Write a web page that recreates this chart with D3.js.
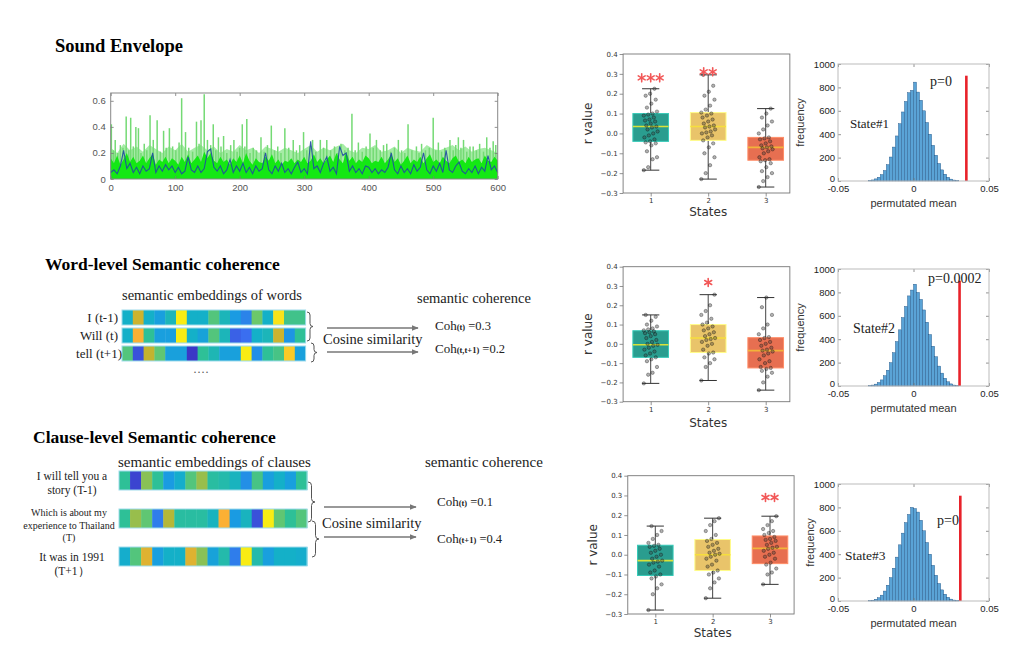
<!DOCTYPE html>
<html>
<head>
<meta charset="utf-8">
<script src="https://cdn.jsdelivr.net/npm/d3@7"></script>
<style>
  body { margin: 0; background: #fff; }
  svg { display: block; }
</style>
</head>
<body>
<svg id="fig" width="1035" height="653"></svg>
<script>
// ---------- data ----------

// sound envelope (x in samples 0..600)
const envXTicks = [0, 100, 200, 300, 400, 500, 600];
const envYTicks = [0, 0.2, 0.4, 0.6];
const envYLabels = ["0", "0.2", "0.4", "0.6"];
const envStep = 5;
const envBase = [
  0.16,0.12,0.18,0.11,0.15,0.2,0.13,0.17,0.12,0.14,0.18,0.12,0.16,0.19,0.11,0.15,0.13,0.17,0.12,0.16,
  0.14,0.11,0.17,0.13,0.19,0.12,0.15,0.18,0.13,0.21,0.16,0.2,0.14,0.12,0.17,0.13,0.15,0.11,0.16,0.13,
  0.18,0.12,0.2,0.14,0.11,0.16,0.13,0.12,0.17,0.14,0.19,0.12,0.15,0.11,0.14,0.13,0.16,0.12,0.15,0.13,
  0.17,0.12,0.14,0.19,0.13,0.16,0.12,0.15,0.18,0.13,0.2,0.15,0.12,0.21,0.14,0.17,0.12,0.15,0.13,0.18,
  0.16,0.12,0.14,0.13,0.17,0.12,0.15,0.19,0.13,0.16,0.11,0.14,0.18,0.12,0.15,0.13,0.17,0.12,0.16,0.19,
  0.13,0.15,0.12,0.17,0.14,0.12,0.16,0.18,0.13,0.15,0.12,0.17,0.13,0.15,0.16,0.12,0.18,0.14,0.13,0.17,0.14
];
const envMidStep = 10;
const envMid = [
  0.24,0.2,0.27,0.22,0.25,0.21,0.26,0.23,0.2,0.25, 0.22,0.27,0.21,0.24,0.26,0.22,0.25,0.2,0.23,0.21,
  0.26,0.22,0.24,0.2,0.25,0.23,0.21,0.24,0.22,0.2, 0.23,0.26,0.21,0.24,0.22,0.25,0.27,0.22,0.2,0.24,
  0.23,0.26,0.21,0.22,0.25,0.2,0.24,0.22,0.21,0.26, 0.23,0.22,0.24,0.26,0.22,0.25,0.21,0.23,0.24,0.22,
  0.2
];
const envSpikeX = [
  1,4,7,11,15,19,24,28,31,35, 39,43,47,52,56,61,66,72,77,82, 86,91,96,101,106,110,116,121,127,133,
  137,140,145,150,155,159,163,167,171,175, 180,186,191,196,200,204,208,211,216,221,
  226,233,238,243,249,254,259,264,270,276, 283,288,293,299,304,309,313,318,325,330,
  335,341,347,352,357,363,368,374,379,384, 390,396,402,407,412,418,423,428,434,440,
  446,451,456,461,467,474,478,482,488,494, 500,504,508,513,518,526,531,535,539,543,
  547,552,557,562,567,572,578,583,588,593, 597
];
const envSpikeVal = [
  0.42,0.22,0.3,0.2,0.26,0.24,0.48,0.22,0.47,0.25, 0.4,0.39,0.2,0.27,0.22,0.49,0.3,0.45,0.21,0.37,
  0.24,0.39,0.25,0.22,0.28,0.62,0.36,0.24,0.21,0.44, 0.27,0.45,0.65,0.3,0.26,0.42,0.22,0.32,0.25,0.33,
  0.2,0.26,0.3,0.21,0.24,0.42,0.25,0.46,0.2,0.24, 0.22,0.32,0.21,0.26,0.41,0.22,0.25,0.2,0.39,0.24,
  0.3,0.22,0.26,0.36,0.22,0.25,0.3,0.21,0.3,0.24, 0.3,0.22,0.25,0.2,0.27,0.22,0.24,0.5,0.22,0.28,
  0.21,0.25,0.35,0.24,0.3,0.22,0.26,0.27,0.21,0.24, 0.3,0.22,0.2,0.42,0.22,0.25,0.2,0.27,0.22,0.24,
  0.47,0.22,0.28,0.21,0.24,0.3,0.22,0.26,0.32,0.24, 0.3,0.21,0.25,0.25,0.22,0.27,0.21,0.32,0.24,0.29,
  0.26
];
const envSmooth = [
  0.05,0.07,0.04,0.1,0.22,0.08,0.12,0.05,0.09,0.04,0.1,0.06,0.08,0.2,0.05,0.1,0.06,0.11,0.07,0.1,
  0.05,0.09,0.04,0.06,0.17,0.07,0.05,0.1,0.05,0.08,0.21,0.23,0.09,0.06,0.1,0.04,0.07,0.15,0.05,0.1,
  0.06,0.12,0.05,0.09,0.04,0.1,0.06,0.08,0.2,0.07,0.04,0.1,0.06,0.12,0.05,0.08,0.04,0.09,0.13,0.05,
  0.08,0.04,0.29,0.08,0.1,0.05,0.12,0.17,0.06,0.09,0.04,0.25,0.18,0.2,0.06,0.1,0.05,0.08,0.04,0.1,
  0.09,0.05,0.08,0.04,0.07,0.05,0.09,0.2,0.07,0.04,0.1,0.05,0.08,0.04,0.11,0.06,0.09,0.2,0.07,0.04,
  0.1,0.06,0.12,0.05,0.22,0.07,0.05,0.1,0.13,0.06,0.04,0.08,0.05,0.1,0.04,0.09,0.06,0.18,0.07,0.1,0.05
];

// embeddings (colormap values 0..1)
const wordLabels = ["I (t-1)", "Will (t)", "tell (t+1)"];
const wordEmbeddings = [
  [0.42,0.76,0.42,0.32,0.45,1.0,0.42,0.42,0.58,0.45,0.3,0.22,0.62,0.42,0.98,0.55,0.55],
  [0.42,0.86,0.52,0.32,0.32,1.0,0.42,0.34,0.58,0.45,0.12,0.15,0.42,0.45,0.76,0.28,0.52],
  [0.58,0.08,0.74,0.6,0.33,0.33,0.02,0.52,0.46,0.33,0.33,1.0,0.26,0.52,0.56,0.92,0.33]
];
const clauseLabels = [
  ["I will tell you a", "story (T-1)"],
  ["Which is about my", "experience to Thailand", "(T)"],
  ["It was in 1991", "(T+1）"]
];
const clauseEmbeddings = [
  [0.52,0.05,0.66,0.52,0.3,0.4,0.58,0.68,0.5,0.48,0.44,0.26,0.56,0.32,0.42,0.32,0.52],
  [0.52,0.68,0.6,0.2,0.72,0.5,0.5,0.5,0.44,0.86,0.3,0.44,0.08,1.0,0.6,0.52,0.58],
  [0.4,0.58,0.8,0.32,0.42,0.42,0.8,0.66,0.34,0.48,0.2,1.0,0.48,0.32,0.42,0.42,0.4]
];
const wordCoh = [["(t)", "0.3"], ["(t,t+1)", "0.2"]];
const clauseCoh = [["(t)", "0.1"], ["(t+1)", "0.4"]];

// box plots: [whisker low, q1, median, q3, whisker high]
const states = ["1", "2", "3"];
const rTicks = [-0.3, -0.2, -0.1, 0, 0.1, 0.2, 0.3, 0.4];
const soundBoxStats = [[-0.185,-0.04,0.035,0.10,0.225],[-0.23,-0.035,0.035,0.105,0.295],[-0.27,-0.135,-0.07,-0.02,0.125]];
const wordBoxStats = [[-0.205,-0.07,-0.005,0.068,0.15],[-0.19,-0.045,0.03,0.10,0.255],[-0.24,-0.125,-0.035,0.032,0.24]];
const clauseBoxStats = [[-0.28,-0.105,-0.03,0.048,0.145],[-0.22,-0.08,0.0,0.077,0.185],[-0.15,-0.045,0.032,0.095,0.195]];
const soundPoints = [
  [-0.185,-0.17,-0.13,-0.12,-0.09,-0.06,-0.05,-0.045,-0.04,-0.03,-0.02,-0.01,0.0,0.01,0.02,0.03,0.035,0.04,0.05,0.06,0.065,0.07,0.08,0.09,0.095,0.1,0.11,0.13,0.15,0.17,0.19,0.2,0.225],
  [-0.23,-0.2,-0.16,-0.12,-0.1,-0.07,-0.05,-0.035,-0.02,-0.01,0.0,0.005,0.01,0.02,0.03,0.035,0.04,0.05,0.06,0.07,0.08,0.09,0.1,0.105,0.12,0.14,0.17,0.19,0.21,0.24,0.295],
  [-0.27,-0.24,-0.22,-0.2,-0.19,-0.17,-0.15,-0.14,-0.135,-0.13,-0.12,-0.1,-0.09,-0.08,-0.075,-0.07,-0.065,-0.06,-0.05,-0.04,-0.03,-0.025,-0.02,0.0,0.02,0.04,0.06,0.08,0.1,0.125]
];
const wordPoints = [
  [-0.205,-0.16,-0.15,-0.12,-0.09,-0.08,-0.07,-0.06,-0.05,-0.04,-0.03,-0.02,-0.01,-0.005,0.0,0.01,0.02,0.03,0.04,0.05,0.055,0.06,0.065,0.07,0.075,0.08,0.09,0.1,0.12,0.14,0.15],
  [-0.19,-0.12,-0.1,-0.08,-0.07,-0.05,-0.045,-0.03,-0.01,0.0,0.01,0.02,0.025,0.03,0.04,0.05,0.06,0.07,0.08,0.09,0.1,0.11,0.13,0.15,0.17,0.2,0.255],
  [-0.24,-0.2,-0.17,-0.15,-0.14,-0.13,-0.125,-0.12,-0.1,-0.09,-0.08,-0.06,-0.05,-0.04,-0.035,-0.03,-0.02,-0.01,0.0,0.01,0.02,0.03,0.035,0.05,0.08,0.1,0.15,0.19,0.24]
];
const clausePoints = [
  [-0.28,-0.2,-0.17,-0.15,-0.12,-0.11,-0.1,-0.09,-0.08,-0.06,-0.05,-0.04,-0.035,-0.03,-0.02,-0.01,0.0,0.01,0.02,0.03,0.04,0.045,0.05,0.06,0.08,0.1,0.12,0.145],
  [-0.22,-0.17,-0.14,-0.12,-0.1,-0.09,-0.08,-0.06,-0.05,-0.03,-0.02,-0.01,0.0,0.005,0.01,0.02,0.03,0.04,0.05,0.06,0.07,0.08,0.1,0.12,0.15,0.17,0.185],
  [-0.15,-0.1,-0.09,-0.07,-0.05,-0.04,-0.02,-0.01,0.0,0.01,0.02,0.03,0.035,0.04,0.05,0.06,0.07,0.075,0.08,0.09,0.1,0.11,0.12,0.13,0.15,0.17,0.195]
];
const soundStars = ["***", "**", ""];
const soundStarY = [0.28, 0.31, null];
const wordStars = ["", "*", ""];
const wordStarY = [null, 0.318, null];
const clauseStars = ["", "", "**"];
const clauseStarY = [null, null, 0.29];

// permutation histograms (bins of 0.002 from -0.03 to 0.03)
const binStart = -0.03;
const binWidth = 0.002;
const freqTicks = [0, 200, 400, 600, 800, 1000];
const meanTicks = [-0.05, 0, 0.05];
const meanLabels = ["-0.05", "0", "0.05"];
const hist1Counts = [4,9,18,32,55,90,140,205,290,385,490,590,680,755,775,845,760,690,600,500,400,305,220,150,95,58,32,16,8,3];
const hist2Counts = [3,8,16,30,52,88,135,200,285,380,480,585,680,770,820,870,800,740,650,545,440,340,250,170,110,66,36,18,8,3];
const hist3Counts = [3,7,15,28,50,85,135,200,280,375,480,580,670,740,800,790,760,690,600,500,400,305,220,150,95,58,32,16,8,3];
const observedMeans = [0.035, 0.0305, 0.031];
const pValues = ["p=0", "p=0.0002", "p=0"];
const stateNames = ["State#1", "State#2", "State#3"];

// ---------- layout & style ----------
const serif = "'Liberation Serif', 'Times New Roman', serif";
const sans = "'Liberation Sans', Arial, sans-serif";
const mpl = "'DejaVu Sans', sans-serif";

const layout = {
  env: { left: 110.7, right: 497.7, top: 93, bottom: 179 },
  box: [
    { x1: 650.7, x3: 765.7, top: 54, bottom: 193, labelX: 592, statesY: 216 },
    { x1: 650.7, x3: 765.7, top: 266.7, bottom: 401.7, labelX: 592, statesY: 427 },
    { x1: 655.3, x3: 770, top: 475.7, bottom: 614, labelX: 597, statesY: 637 },
  ],
  hist: [
    { left: 838, right: 989, top: 64, bottom: 181, freqX: 800, pX: 930, pY: 86, sX: 850, sY: 128, sSize: 13 },
    { left: 838, right: 989, top: 269, bottom: 386, freqX: 800, pX: 928, pY: 283, sX: 853, sY: 333, sSize: 14 },
    { left: 838, right: 989, top: 484, bottom: 601, freqX: 810, pX: 937, pY: 525, sX: 845, sY: 560, sSize: 13.5 },
  ],
};

const boxColors = ["#2a9d8f", "#e9c46a", "#e76f51"];
const medianColors = ["#d8e23a", "#f6de3c", "#f2b33a"];

const parula = d3
  .scaleLinear()
  .domain([0, 0.15, 0.3, 0.42, 0.52, 0.62, 0.74, 0.86, 1])
  .range(["#3b2fc0", "#3a6ef0", "#1a9be2", "#14b0c8", "#2ec097", "#6cc86a", "#c3b32e", "#fbb034", "#f8ec14"]);

const svg = d3.select("#fig");
svg.append("rect").attr("width", 1035).attr("height", 653).attr("fill", "#fff");

svg
  .append("defs")
  .append("marker")
  .attr("id", "arrow")
  .attr("viewBox", "0 0 10 10")
  .attr("refX", 9)
  .attr("refY", 5)
  .attr("markerWidth", 7)
  .attr("markerHeight", 7)
  .attr("markerUnits", "userSpaceOnUse")
  .attr("orient", "auto")
  .append("path")
  .attr("d", "M0,1 L10,5 L0,9 z")
  .attr("fill", "#777");

function addText(g, x, y, str, size, opts = {}) {
  return g
    .append("text")
    .attr("x", x)
    .attr("y", y)
    .attr("font-family", opts.family || serif)
    .attr("font-size", size)
    .attr("font-weight", opts.weight || "normal")
    .attr("text-anchor", opts.anchor || "start")
    .attr("fill", opts.fill || "#222")
    .text(str);
}

function styleAxis(g, family, size, color) {
  g.select(".domain").remove();
  g.selectAll("text").attr("font-family", family).attr("font-size", size).attr("fill", color);
  g.selectAll("line").attr("stroke", "#777").attr("stroke-width", 0.8);
}

// ---------- sound envelope ----------
function drawEnvelope() {
  const L = layout.env;
  const x = d3.scaleLinear().domain([0, 600]).range([L.left, L.right]);
  const y = d3.scaleLinear().domain([0, 0.66]).range([L.bottom, L.top]);
  const g = svg.append("g");

  addText(g, 55, 52, "Sound Envelope", 18.5, { weight: "bold", fill: "#000" });

  g.append("path")
    .datum(envMid)
    .attr("d", d3.area().x((d, i) => x(i * envMidStep)).y0(y(0)).y1((d) => y(d)))
    .attr("fill", "#a6eca6");

  g.selectAll("line.spike")
    .data(envSpikeX)
    .join("line")
    .attr("x1", (d) => x(d))
    .attr("x2", (d) => x(d))
    .attr("y1", y(0))
    .attr("y2", (d, i) => y(envSpikeVal[i]))
    .attr("stroke", "#74da74")
    .attr("stroke-width", 1.5);

  g.append("path")
    .datum(envBase)
    .attr("d", d3.area().x((d, i) => x(i * envStep)).y0(y(0)).y1((d) => y(d)))
    .attr("fill", "#14e814");

  g.append("path")
    .datum(envSmooth)
    .attr("d", d3.line().x((d, i) => x(i * envStep)).y((d) => y(d)))
    .attr("fill", "none")
    .attr("stroke", "#1f4aa2")
    .attr("stroke-opacity", 0.9)
    .attr("stroke-width", 1.1);

  g.append("g")
    .attr("transform", `translate(0,${L.bottom})`)
    .call(d3.axisBottom(x).tickValues(envXTicks).tickSize(-3).tickPadding(5))
    .call(styleAxis, sans, 9.5, "#555");
  g.append("g")
    .attr("transform", `translate(0,${L.top})`)
    .call(d3.axisTop(x).tickValues(envXTicks).tickSize(-3).tickFormat(""))
    .call(styleAxis, sans, 9.5, "#555");
  g.append("g")
    .attr("transform", `translate(${L.left},0)`)
    .call(d3.axisLeft(y).tickValues(envYTicks).tickFormat((d, i) => envYLabels[i]).tickSize(-3).tickPadding(5))
    .call(styleAxis, sans, 9.5, "#555");
  g.append("g")
    .attr("transform", `translate(${L.right},0)`)
    .call(d3.axisRight(y).tickValues(envYTicks).tickSize(-3).tickFormat(""))
    .call(styleAxis, sans, 9.5, "#555");

  g.append("rect")
    .attr("x", L.left)
    .attr("y", L.top)
    .attr("width", L.right - L.left)
    .attr("height", L.bottom - L.top)
    .attr("fill", "none")
    .attr("stroke", "#888");
}

// ---------- embeddings ----------
function bracePath(x, y0, y1, w) {
  const ym = (y0 + y1) / 2;
  return `M${x},${y0} Q${x + w},${y0} ${x + w},${y0 + w} L${x + w},${ym - w} Q${x + w},${ym} ${x + 2 * w},${ym}` +
    ` Q${x + w},${ym} ${x + w},${ym + w} L${x + w},${y1 - w} Q${x + w},${y1} ${x},${y1}`;
}

function drawRows(g, rows, x0, cellW, ys, h) {
  rows.forEach((row, r) => {
    const cx = d3.scaleBand().domain(d3.range(row.length)).range([x0, x0 + cellW * row.length]);
    g.selectAll(null)
      .data(row)
      .join("rect")
      .attr("x", (d, i) => cx(i))
      .attr("y", ys[r])
      .attr("width", cx.bandwidth() + 0.4)
      .attr("height", h)
      .attr("fill", (d) => parula(d));
    g.append("rect")
      .attr("x", x0)
      .attr("y", ys[r])
      .attr("width", cellW * row.length)
      .attr("height", h)
      .attr("fill", "none")
      .attr("stroke", "#9fdcec")
      .attr("stroke-width", 1);
  });
}

function addCoh(g, x, y, sub, val) {
  const t = g.append("text").attr("x", x).attr("y", y).attr("font-family", serif).attr("fill", "#222");
  t.append("tspan").attr("font-size", 13).text("Coh");
  t.append("tspan").attr("font-size", 8.5).attr("font-weight", "bold").text(sub);
  t.append("tspan").attr("font-size", 12.5).text(` =${val}`);
}

function drawArrow(g, x0, x1, y) {
  g.append("line")
    .attr("x1", x0).attr("x2", x1).attr("y1", y).attr("y2", y)
    .attr("stroke", "#777").attr("stroke-width", 1.3)
    .attr("marker-end", "url(#arrow)");
}

function drawWordPanel() {
  const g = svg.append("g");
  addText(g, 45, 270, "Word-level Semantic coherence", 17.5, { weight: "bold", fill: "#000" });
  addText(g, 122, 300, "semantic embeddings of words", 14.5);
  addText(g, 417, 303, "semantic coherence", 14.5);

  const ys = [310, 328, 346];
  drawRows(g, wordEmbeddings, 122, 10.8, ys, 15);
  wordLabels.forEach((lab, i) => addText(g, i === 2 ? 122 : 118, ys[i] + 12, lab, 13, { anchor: "end" }));
  addText(g, 193, 376, "····", 12, { fill: "#555" });

  g.append("path").attr("d", bracePath(307, 312, 341, 3)).attr("fill", "none").attr("stroke", "#555");
  g.append("path").attr("d", bracePath(311, 343, 362, 3)).attr("fill", "none").attr("stroke", "#555");
  drawArrow(g, 327, 418, 328);
  drawArrow(g, 327, 418, 352);
  addText(g, 323, 344, "Cosine similarity", 14.5);
  addCoh(g, 435, 330, wordCoh[0][0], wordCoh[0][1]);
  addCoh(g, 435, 353, wordCoh[1][0], wordCoh[1][1]);
}

function drawClausePanel() {
  const g = svg.append("g");
  addText(g, 33, 443, "Clause-level Semantic coherence", 17.5, { weight: "bold", fill: "#000" });
  addText(g, 118, 467, "semantic embeddings of clauses", 15);
  addText(g, 425, 467, "semantic coherence", 15);

  const ys = [471, 509, 547];
  drawRows(g, clauseEmbeddings, 119, 11.06, ys, 19);
  const lineYs = [[480, 494], [516, 529, 541], [561, 575]];
  const lineSizes = [11.5, 10, 11.5];
  const lineX = [72, 69, 72];
  clauseLabels.forEach((lines, r) =>
    lines.forEach((l, k) => addText(g, lineX[r], lineYs[r][k], l, lineSizes[r], { anchor: "middle" }))
  );

  g.append("path").attr("d", bracePath(308, 482, 522, 3.5)).attr("fill", "none").attr("stroke", "#555");
  g.append("path").attr("d", bracePath(312, 521, 557, 3.5)).attr("fill", "none").attr("stroke", "#555");
  drawArrow(g, 324, 416, 507);
  drawArrow(g, 324, 416, 537);
  addText(g, 322, 528, "Cosine similarity", 14.5);
  addCoh(g, 437, 506, clauseCoh[0][0], clauseCoh[0][1]);
  addCoh(g, 437, 543, clauseCoh[1][0], clauseCoh[1][1]);
}

// ---------- box plots ----------
function drawStars(g, cx, cy, str) {
  const n = str.length;
  for (let k = 0; k < n; k++) {
    const sx = cx + (k - (n - 1) / 2) * 9;
    [90, 30, 150].forEach((a) => {
      const r = 4, t = (a * Math.PI) / 180;
      g.append("line")
        .attr("x1", sx - r * Math.cos(t)).attr("y1", cy - r * Math.sin(t))
        .attr("x2", sx + r * Math.cos(t)).attr("y2", cy + r * Math.sin(t))
        .attr("stroke", "#f25858").attr("stroke-width", 1.6).attr("stroke-linecap", "round");
    });
  }
}

function drawBoxplot(p, stats, points, stars, starY) {
  const x = d3.scalePoint().domain(states).range([p.x1, p.x3]);
  const y = d3.scaleLinear().domain([-0.3, 0.4]).range([p.bottom, p.top]);
  const step = x.step();
  const left = p.x1 - step * 0.48;
  const right = p.x3 + step * 0.42;
  const bw = step * 0.62;
  const cap = step * 0.3;
  const g = svg.append("g");

  states.forEach((s, i) => {
    const [lo, q1, med, q3, hi] = stats[i];
    const cx = x(s);
    g.append("line").attr("x1", cx).attr("x2", cx).attr("y1", y(lo)).attr("y2", y(q1)).attr("stroke", "#444");
    g.append("line").attr("x1", cx).attr("x2", cx).attr("y1", y(q3)).attr("y2", y(hi)).attr("stroke", "#444");
    [lo, hi].forEach((v) =>
      g.append("line").attr("x1", cx - cap / 2).attr("x2", cx + cap / 2).attr("y1", y(v)).attr("y2", y(v)).attr("stroke", "#333")
    );
    g.append("rect")
      .attr("x", cx - bw / 2)
      .attr("y", y(q3))
      .attr("width", bw)
      .attr("height", y(q1) - y(q3))
      .attr("fill", boxColors[i])
      .attr("stroke", d3.color(boxColors[i]).brighter(0.7))
      .attr("stroke-width", 1);
    g.append("line")
      .attr("x1", cx - bw / 2).attr("x2", cx + bw / 2)
      .attr("y1", y(med)).attr("y2", y(med))
      .attr("stroke", medianColors[i]).attr("stroke-width", 1.6);

    g.selectAll(null)
      .data(points[i])
      .join("circle")
      .attr("cx", (d, j) => cx + ((((j * 7919) % 23) / 22) - 0.5) * step * 0.24)
      .attr("cy", (d) => y(d))
      .attr("r", 1.7)
      .attr("fill", "rgba(60,60,60,0.4)")
      .attr("stroke", "rgba(0,0,0,0.6)")
      .attr("stroke-width", 0.5);

    if (stars[i]) drawStars(g, cx, y(starY[i]), stars[i]);
  });

  g.append("g")
    .attr("transform", `translate(${left},0)`)
    .call(d3.axisLeft(y).tickValues(rTicks).tickFormat(d3.format(".1f")).tickSize(3.5).tickPadding(2))
    .call(styleAxis, mpl, 7, "#333");
  g.append("g")
    .attr("transform", `translate(0,${p.bottom})`)
    .call(d3.axisBottom(x).tickSize(3.5).tickPadding(2))
    .call(styleAxis, mpl, 7, "#333");

  g.append("rect")
    .attr("x", left)
    .attr("y", p.top)
    .attr("width", right - left)
    .attr("height", p.bottom - p.top)
    .attr("fill", "none")
    .attr("stroke", "#777")
    .attr("stroke-width", 0.9);

  addText(g, x("2"), p.statesY, "States", 12, { family: mpl, anchor: "middle", fill: "#333" });
  addText(g, 0, 0, "r value", 12, { family: mpl, anchor: "middle", fill: "#333" })
    .attr("transform", `translate(${p.labelX},${(p.top + p.bottom) / 2}) rotate(-90)`);
}

// ---------- histograms ----------
function drawHistogram(p, counts, observed, pText, stateText) {
  const x = d3.scaleLinear().domain([-0.05, 0.05]).range([p.left, p.right]);
  const y = d3.scaleLinear().domain([0, 1000]).range([p.bottom, p.top]);
  const g = svg.append("g");

  g.selectAll(null)
    .data(counts)
    .join("rect")
    .attr("x", (d, i) => x(binStart + i * binWidth))
    .attr("y", (d) => y(d))
    .attr("width", x(binWidth) - x(0))
    .attr("height", (d) => y(0) - y(d))
    .attr("fill", "#5aa3d6")
    .attr("stroke", "#1d4f80")
    .attr("stroke-width", 0.4);

  g.append("line")
    .attr("x1", x(observed)).attr("x2", x(observed))
    .attr("y1", y(0)).attr("y2", y(900))
    .attr("stroke", "#e8222a").attr("stroke-width", 2.6);

  const yAxis = g.append("g")
    .attr("transform", `translate(${p.left},0)`)
    .call(d3.axisLeft(y).tickValues(freqTicks).tickFormat(d3.format("d")).tickSize(-3).tickPadding(3))
    .call(styleAxis, sans, 9.5, "#222");
  // lift the "0" label slightly so it clears the x-axis labels, as in the original
  yAxis.selectAll(".tick text").filter((d) => d === 0).attr("dy", "0.05em");
  g.append("g")
    .attr("transform", `translate(${p.right},0)`)
    .call(d3.axisRight(y).tickValues(freqTicks).tickSize(-3).tickFormat(""))
    .call(styleAxis, sans, 9.5, "#222");
  g.append("g")
    .attr("transform", `translate(0,${p.bottom})`)
    .call(d3.axisBottom(x).tickValues(meanTicks).tickFormat((d, i) => meanLabels[i]).tickSize(-3).tickPadding(4))
    .call(styleAxis, sans, 9.5, "#222");
  g.append("g")
    .attr("transform", `translate(0,${p.top})`)
    .call(d3.axisTop(x).tickValues(meanTicks).tickSize(-3).tickFormat(""))
    .call(styleAxis, sans, 9.5, "#222");

  g.append("rect")
    .attr("x", p.left)
    .attr("y", p.top)
    .attr("width", p.right - p.left)
    .attr("height", p.bottom - p.top)
    .attr("fill", "none")
    .attr("stroke", "#bbb");

  addText(g, (p.left + p.right) / 2, p.bottom + 26, "permutated mean", 11, { family: sans, anchor: "middle", fill: "#333" });
  addText(g, 0, 0, "frequency", 11, { family: sans, anchor: "middle", fill: "#333" })
    .attr("transform", `translate(${p.freqX + 4},${(p.top + p.bottom) / 2}) rotate(-90)`);
  addText(g, p.pX, p.pY, pText, 14);
  addText(g, p.sX, p.sY, stateText, p.sSize);
}

drawEnvelope();
drawWordPanel();
drawClausePanel();
drawBoxplot(layout.box[0], soundBoxStats, soundPoints, soundStars, soundStarY);
drawBoxplot(layout.box[1], wordBoxStats, wordPoints, wordStars, wordStarY);
drawBoxplot(layout.box[2], clauseBoxStats, clausePoints, clauseStars, clauseStarY);
drawHistogram(layout.hist[0], hist1Counts, observedMeans[0], pValues[0], stateNames[0]);
drawHistogram(layout.hist[1], hist2Counts, observedMeans[1], pValues[1], stateNames[1]);
drawHistogram(layout.hist[2], hist3Counts, observedMeans[2], pValues[2], stateNames[2]);
</script>
</body>
</html>
